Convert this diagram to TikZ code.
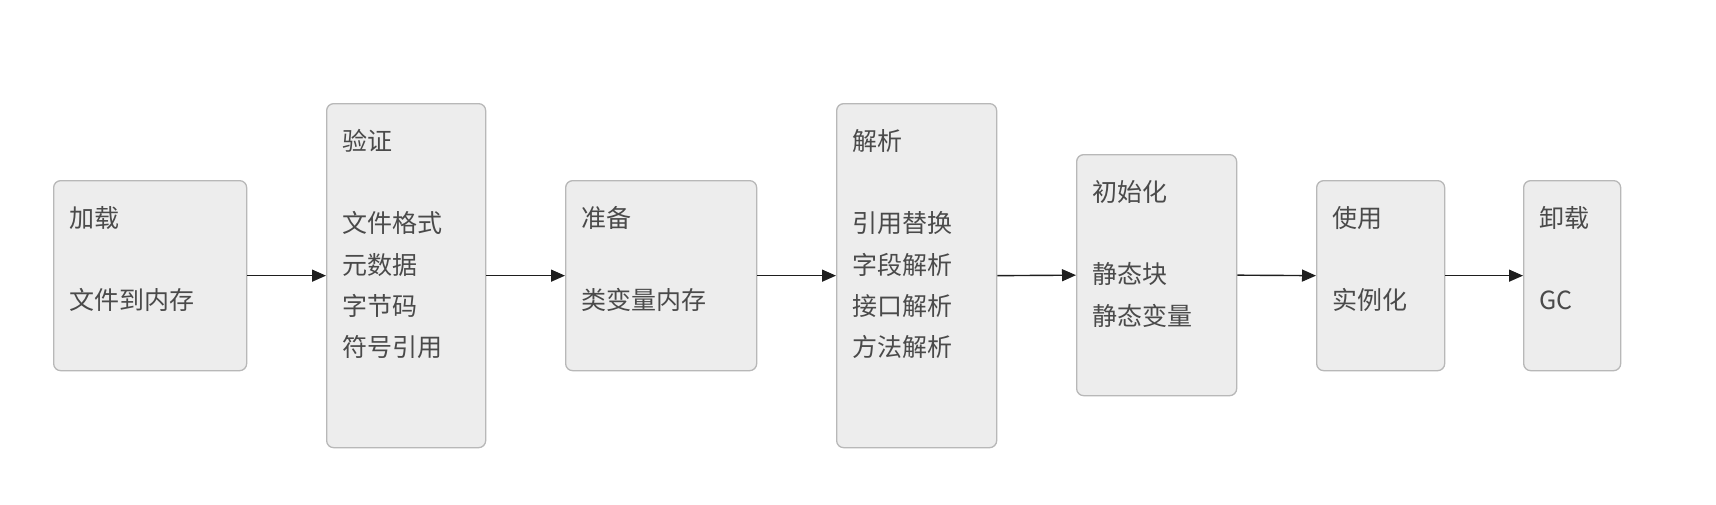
\documentclass[tikz,border=0pt]{standalone}
\usepackage{fontspec}
\setmainfont{Noto Sans CJK SC}
\usetikzlibrary{arrows.meta}
\definecolor{boxfill}{HTML}{EDEDED}
\definecolor{boxdraw}{HTML}{B8B8B8}
\definecolor{txtgray}{HTML}{4A4A4A}
\definecolor{linegray}{HTML}{1E1E1E}
\begin{document}
\begin{tikzpicture}[x=1pt,y=-1pt,
  stage/.style={draw=boxdraw, fill=boxfill, line width=1.3pt, rounded corners=7pt,
    inner sep=0pt, anchor=north west},
  lbl/.style={anchor=north west, inner sep=0pt, align=left, text=txtgray,
    font=\fontsize{25pt}{41.3pt}\selectfont},
  conn/.style={draw=linegray, line width=1.4pt, -{Triangle[length=14pt,width=12pt]}}]
\useasboundingbox (0,0) rectangle (1716,504);
\fill[white] (0,0) rectangle (1716,504);

\node[stage, minimum width=193pt, minimum height=190pt] (b1) at (53,180) {};
\node[stage, minimum width=159pt, minimum height=344pt] (b2) at (326,103) {};
\node[stage, minimum width=191pt, minimum height=190pt] (b3) at (565,180) {};
\node[stage, minimum width=160pt, minimum height=344pt] (b4) at (836,103) {};
\node[stage, minimum width=160pt, minimum height=241pt] (b5) at (1076,154) {};
\node[stage, minimum width=128pt, minimum height=190pt] (b6) at (1316,180) {};
\node[stage, minimum width=97pt, minimum height=190pt] (b7) at (1523,180) {};

\node[lbl] (t1) at ([xshift=16pt,yshift=-26pt]b1.north west) {加载\\[41.3pt]文件到内存};
\node[lbl] (t2) at ([xshift=16pt,yshift=-26pt]b2.north west) {验证\\[41.3pt]文件格式\\元数据\\字节码\\符号引用};
\node[lbl] (t3) at ([xshift=16pt,yshift=-26pt]b3.north west) {准备\\[41.3pt]类变量内存};
\node[lbl] (t4) at ([xshift=16pt,yshift=-26pt]b4.north west) {解析\\[41.3pt]引用替换\\字段解析\\接口解析\\方法解析};
\node[lbl] (t5) at ([xshift=16pt,yshift=-26pt]b5.north west) {初始化\\[41.3pt]静态块\\静态变量};
\node[lbl] (t6) at ([xshift=16pt,yshift=-26pt]b6.north west) {使用\\[41.3pt]实例化};
\node[lbl] (t7) at ([xshift=16pt,yshift=-26pt]b7.north west) {卸载\\[41.3pt]GC};

\draw[conn] (b1.east) -- (b2.west);
\draw[conn] (b2.east) -- (b3.west);
\draw[conn] (b3.east) -- (b4.west);
\draw[conn] (b4.east) -- (b5.west);
\draw[conn] (b5.east) -- (b6.west);
\draw[conn] (b6.east) -- (b7.west);
\end{tikzpicture}
\end{document}
